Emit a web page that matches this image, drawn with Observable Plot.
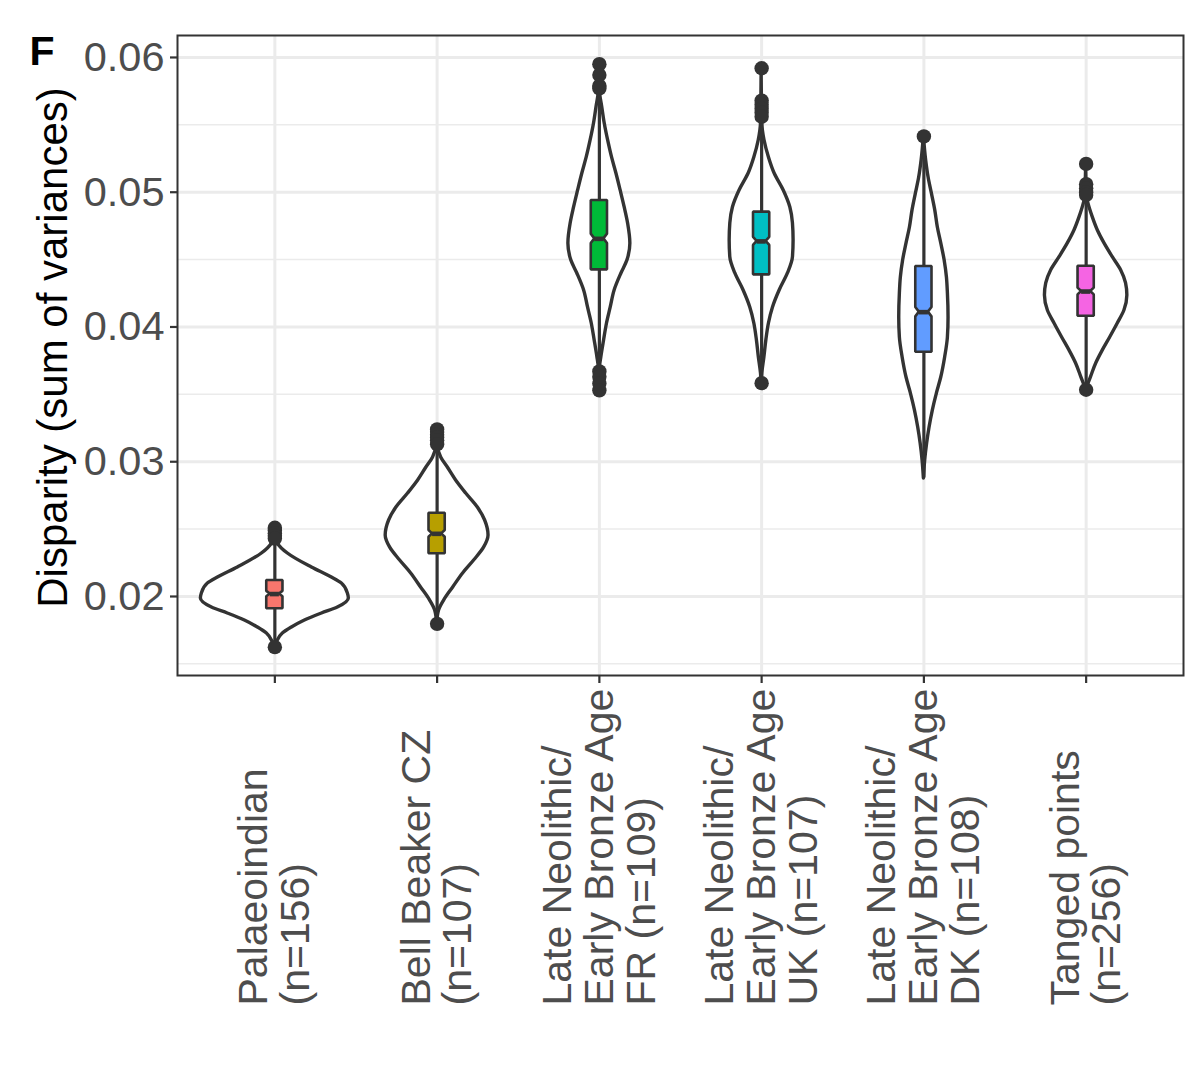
<!DOCTYPE html>
<html>
<head>
<meta charset="utf-8">
<script src="https://cdn.jsdelivr.net/npm/d3@7"></script>
<script src="https://cdn.jsdelivr.net/npm/@observablehq/plot@0.6"></script>
<style>
  html, body { margin: 0; padding: 0; background: #fff; }
  #chart svg { display: block; }
</style>
</head>
<body>
<div id="chart"></div>
<script>
// ---- data ----
const categories = ["Palaeoindian", "Bell Beaker CZ", "LNEBA FR", "LNEBA UK", "LNEBA DK", "Tanged points"];
const tickLabels = [
  "Palaeoindian\n(n=156)",
  "Bell Beaker CZ\n(n=107)",
  "Late Neolithic/\nEarly Bronze Age\nFR (n=109)",
  "Late Neolithic/\nEarly Bronze Age\nUK (n=107)",
  "Late Neolithic/\nEarly Bronze Age\nDK (n=108)",
  "Tanged points\n(n=256)"
];
const fillColors = ["#F8766D", "#B79F00", "#00BA38", "#00BFC4", "#619CFF", "#F564E3"];

const q1      = [0.01909, 0.02317, 0.04424, 0.04387, 0.03813, 0.04080];
const medians = [0.02018, 0.02465, 0.04654, 0.04635, 0.04110, 0.04263];
const q3      = [0.02119, 0.02618, 0.04939, 0.04852, 0.04449, 0.04451];
const notchLo = [0.01998, 0.02440, 0.04619, 0.04605, 0.04075, 0.04238];
const notchHi = [0.02038, 0.02490, 0.04689, 0.04665, 0.04145, 0.04288];
const whiskerLo = [0.01650, 0.01810, 0.03700, 0.03620, 0.02880, 0.03560];
const whiskerHi = [0.02400, 0.03100, 0.05750, 0.05530, 0.05300, 0.04960];

const outliers = [
  [0.02510, 0.02490, 0.02470, 0.02450, 0.02430, 0.01624],
  [0.03240, 0.03220, 0.03200, 0.03180, 0.03160, 0.03130, 0.01797],
  [0.05950, 0.05870, 0.05790, 0.05770, 0.03670, 0.03630, 0.03580, 0.03530],
  [0.05920, 0.05680, 0.05650, 0.05620, 0.05590, 0.05560, 0.03583],
  [0.05414],
  [0.05210, 0.05060, 0.05030, 0.05000, 0.04980, 0.03534]
];

// violin outlines: y values and half-widths (in category units)
const violinY = [
  [0.02512,0.02438,0.02393,0.02319,0.02215,0.02141,0.02096,0.02022,0.01985,0.01918,0.01874,0.01822,0.01770,0.01725,0.01659,0.01622],
  [0.03247,0.03106,0.03032,0.02957,0.02861,0.02764,0.02660,0.02564,0.02453,0.02364,0.02267,0.02171,0.02067,0.01970,0.01896,0.01800],
  [0.05955,0.05755,0.05629,0.05510,0.05384,0.05258,0.05139,0.05013,0.04887,0.04768,0.04620,0.04494,0.04397,0.04271,0.04145,0.04026,0.03900,0.03774,0.03692,0.03529],
  [0.05926,0.05510,0.05384,0.05258,0.05139,0.05013,0.04887,0.04768,0.04643,0.04516,0.04397,0.04271,0.04145,0.04026,0.03900,0.03774,0.03655,0.03581],
  [0.05414,0.05236,0.05109,0.04991,0.04865,0.04738,0.04620,0.04494,0.04367,0.04249,0.04071,0.03922,0.03774,0.03625,0.03506,0.03380,0.03254,0.03135,0.03009,0.02876],
  [0.05206,0.04961,0.04917,0.04813,0.04716,0.04620,0.04516,0.04419,0.04323,0.04234,0.04122,0.04026,0.03922,0.03826,0.03729,0.03625,0.03536]
];
const violinW = [
  [0,.006,.018,.080,.228,.351,.413,.450,.456,.388,.290,.185,.105,.049,.012,0],
  [0,.006,.025,.066,.117,.179,.251,.296,.317,.290,.228,.160,.099,.043,.012,0],
  [0,.003,.018,.033,.054,.078,.105,.131,.156,.177,.191,.173,.136,.094,.070,.047,.029,.012,.003,0],
  [0,.004,.018,.045,.080,.136,.177,.193,.197,.193,.162,.111,.070,.045,.029,.017,.004,0],
  [0,.014,.029,.049,.070,.086,.107,.128,.142,.148,.152,.148,.131,.107,.080,.055,.035,.020,.008,0],
  [0,.006,.014,.041,.072,.113,.165,.216,.246,.254,.236,.195,.148,.103,.062,.029,0]
];

const yMajor = [0.02, 0.03, 0.04, 0.05, 0.06];
const yMinor = [0.015, 0.025, 0.035, 0.045, 0.055];
const yTitle = "Disparity (sum of variances)";
const panelTag = "F";

// ---- derived tables ----
const idx = d3.range(categories.length);
const pos = i => i + 1;
const boxHalf = 0.05;    // half box width in category units
const notchFrac = 0.56;

const violinRows = idx.flatMap(g =>
  violinY[g].map((y, j) => ({g, y, w: violinW[g][j]})).sort((a, b) => a.y - b.y)
);
const boxRows = idx.flatMap(g => [
  {g, y: q1[g], w: boxHalf},
  {g, y: notchLo[g], w: boxHalf},
  {g, y: medians[g], w: boxHalf * notchFrac},
  {g, y: notchHi[g], w: boxHalf},
  {g, y: q3[g], w: boxHalf}
]);
const outlierRows = idx.flatMap(g => outliers[g].map(y => ({g, y})));

const FONT = "'Liberation Sans', Arial, Helvetica, sans-serif";
const INK = "#333333";

const chart = Plot.plot({
  width: 1200,
  height: 1070,
  marginLeft: 177,
  marginRight: 17,
  marginTop: 35,
  marginBottom: 395,
  style: {fontFamily: FONT, background: "white", overflow: "visible"},
  x: {type: "linear", domain: [0.4, 6.6], axis: null},
  y: {domain: [0.014137, 0.06163], axis: null},
  marks: [
    // grid
    Plot.ruleY(yMinor, {stroke: "#EBEBEB", strokeWidth: 1.5}),
    Plot.ruleY(yMajor, {stroke: "#EBEBEB", strokeWidth: 3}),
    Plot.ruleX(idx.map(pos), {stroke: "#EBEBEB", strokeWidth: 3}),
    // violins
    Plot.areaX(violinRows, {
      y: "y",
      x1: d => pos(d.g) - d.w,
      x2: d => pos(d.g) + d.w,
      z: "g",
      fill: "white",
      stroke: INK,
      strokeWidth: 3.4,
      curve: "monotone-y"
    }),
    // whiskers
    Plot.ruleX(idx, {x: pos, y1: i => whiskerLo[i], y2: i => whiskerHi[i], stroke: INK, strokeWidth: 3.2}),
    // notched boxes
    Plot.areaX(boxRows, {
      y: "y",
      x1: d => pos(d.g) - d.w,
      x2: d => pos(d.g) + d.w,
      z: "g",
      fill: d => fillColors[d.g],
      stroke: INK,
      strokeWidth: 2.6,
      strokeLinejoin: "miter",
      curve: "linear"
    }),
    // medians
    Plot.ruleY(idx, {
      y: i => medians[i],
      x1: i => pos(i) - boxHalf * notchFrac,
      x2: i => pos(i) + boxHalf * notchFrac,
      stroke: INK,
      strokeWidth: 4.6
    }),
    // outliers
    Plot.dot(outlierRows, {x: d => pos(d.g), y: "y", r: 7.2, fill: INK, stroke: null}),
    // panel border
    Plot.frame({stroke: INK, strokeWidth: 2}),
    // axes
    Plot.axisY(yMajor, {
      tickFormat: d3.format(".2f"),
      tickSize: 7,
      tickPadding: 6,
      fontSize: 41.5,
      fill: "#4D4D4D",
      stroke: INK,
      strokeWidth: 2.2,
      label: null
    }),
    Plot.axisX(idx.map(pos), {
      tickFormat: () => "",
      tickSize: 8,
      stroke: INK,
      strokeWidth: 2.2,
      label: null
    }),
    // x tick labels (rotated)
    Plot.text(idx, {
      x: pos,
      text: i => tickLabels[i],
      frameAnchor: "bottom",
      rotate: -90,
      textAnchor: "start",
      lineAnchor: "middle",
      lineHeight: 1.02,
      dy: 330,
      fontSize: 41,
      fill: "#4D4D4D"
    }),
    // y title
    Plot.text([yTitle], {
      frameAnchor: "left",
      rotate: -90,
      textAnchor: "middle",
      lineAnchor: "middle",
      dx: -124,
      dy: -8,
      fontSize: 42,
      fill: "black"
    }),
    // panel tag
    Plot.text([panelTag], {
      frameAnchor: "top-left",
      textAnchor: "start",
      lineAnchor: "top",
      dx: -148,
      dy: 0,
      fontSize: 41,
      fontWeight: "bold",
      fill: "black"
    })
  ]
});

document.getElementById("chart").appendChild(chart);
</script>
</body>
</html>
